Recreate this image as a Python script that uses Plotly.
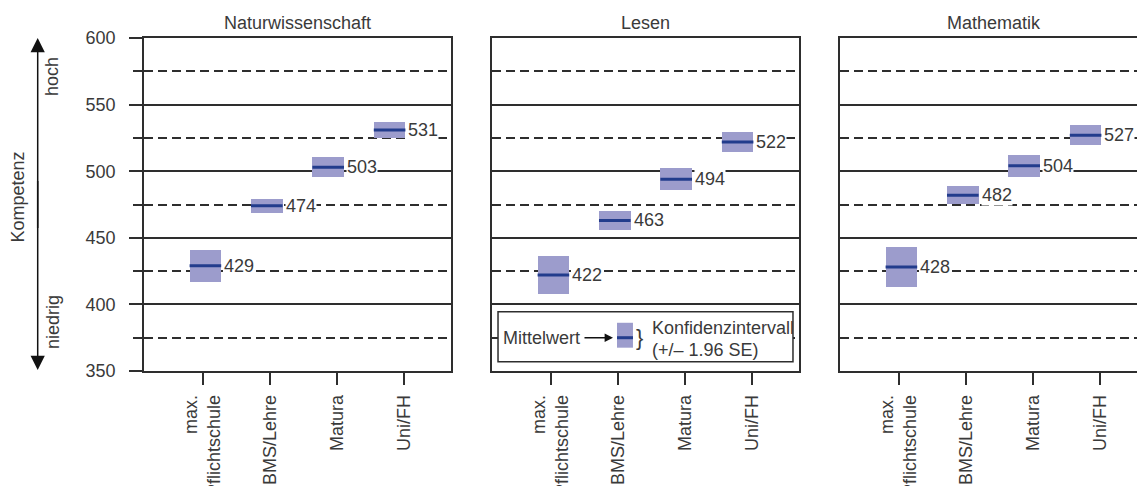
import plotly.graph_objects as go

# ---- data -------------------------------------------------------------
subjects = ["Naturwissenschaft", "Lesen", "Mathematik"]
groups = ["max.<br>Pflichtschule", "BMS/Lehre", "Matura", "Uni/FH"]

mean_nw = [429, 474, 503, 531]
mean_le = [422, 463, 494, 522]
mean_ma = [428, 482, 504, 527]

se_nw = [6.1, 2.8, 3.9, 3.1]
se_le = [7.4, 3.8, 4.3, 3.7]
se_ma = [7.6, 3.5, 4.1, 3.8]

means = [mean_nw, mean_le, mean_ma]
ses = [se_nw, se_le, se_ma]

Z = 1.96  # confidence interval = mean +/- 1.96 SE

# ---- styling ----------------------------------------------------------
FONT = "Liberation Sans, Arial, sans-serif"
TXT = "#3a3a3a"
LINE = "#2e2e2e"
BOX_FILL = "#9c9ccc"
MEAN_COL = "#223c8c"
FS = 18

W, H = 1137, 486
TOP, BOTTOM = 38, 115
PANEL_PX = [(144, 451), (492, 799), (840, 1137)]
UNIT_PX = (451 - 144) / 5.0          # one category step in pixels
BOX_W = 0.515                        # box width in category units
TICK_POS = [-0.045, 1.05, 2.14, 3.23]

fig = go.Figure()

for p in range(3):
    xa = "x" if p == 0 else f"x{p + 1}"
    ya = "y" if p == 0 else f"y{p + 1}"
    xs = list(range(len(groups)))
    lo = [m - Z * s for m, s in zip(means[p], ses[p])]
    hi = [m + Z * s for m, s in zip(means[p], ses[p])]
    fig.add_trace(go.Bar(
        x=xs, base=lo, y=[h - l for h, l in zip(hi, lo)], width=BOX_W,
        marker=dict(color=BOX_FILL, line=dict(width=0)),
        xaxis=xa, yaxis=ya, showlegend=False, hoverinfo="skip"))
    # mean marker: the line-ew symbol is 1.4 x its size long
    fig.add_trace(go.Scatter(
        x=xs, y=means[p], mode="markers",
        marker=dict(symbol="line-ew", size=BOX_W * UNIT_PX / 1.4,
                    line=dict(color=MEAN_COL, width=3)),
        xaxis=xa, yaxis=ya, showlegend=False, hoverinfo="skip"))
    for i, m in enumerate(means[p]):
        fig.add_annotation(
            x=i + BOX_W / 2, y=m, xref=xa, yref=ya, text=str(m),
            xanchor="left", yanchor="middle", xshift=2, showarrow=False,
            bgcolor="white", borderpad=0,
            font=dict(family=FONT, size=FS, color=TXT))
    # panel title
    fig.add_annotation(
        x=1.5, y=1, xref=xa, yref="paper", text=subjects[p],
        xanchor="center", yanchor="middle", yshift=15, showarrow=False,
        font=dict(family=FONT, size=FS, color=TXT))

# ---- axes -------------------------------------------------------------
for p, (x0, x1) in enumerate(PANEL_PX):
    key = "" if p == 0 else str(p + 1)
    rmax = -1 + (x1 - x0) / UNIT_PX
    fig.update_layout(**{
        f"xaxis{key}": dict(
            domain=[x0 / W, x1 / W], range=[-1, rmax], anchor=f"y{key}",
            showgrid=False, zeroline=False,
            showline=True, linecolor=LINE, linewidth=1.5, mirror=True,
            ticks="outside", ticklen=12, tickwidth=1.5, tickcolor=LINE,
            tickvals=TICK_POS, ticktext=groups, tickangle=-90,
            ticklabelstandoff=3,
            tickfont=dict(family=FONT, size=FS, color=TXT),
            fixedrange=True),
        f"yaxis{key}": dict(
            domain=[0, 1], range=[350, 600], anchor=f"x{key}",
            tick0=350, dtick=50,
            showgrid=True, gridcolor=LINE, gridwidth=1.5, zeroline=False,
            showline=True, linecolor=LINE, linewidth=1.5,
            mirror=(p < 2),
            ticks="outside" if p == 0 else "", ticklen=13, tickwidth=1.5,
            tickcolor=LINE, showticklabels=(p == 0), ticklabelstandoff=10,
            tickfont=dict(family=FONT, size=FS, color=TXT),
            minor=dict(tick0=350, dtick=25, showgrid=True, gridcolor=LINE,
                       gridwidth=1.5, griddash="9px,5px",
                       ticks="outside" if p == 0 else "", ticklen=9,
                       tickwidth=1.5, tickcolor=LINE),
            fixedrange=True),
    })

# ---- y-axis title with direction arrow ---------------------------------
def px_x(px):
    return px / W


def px_y(py):
    return (H - BOTTOM - py) / (H - BOTTOM - TOP)


for label, cx, cy in [("Kompetenz", 17.5, 197), ("hoch", 52, 77),
                      ("niedrig", 53, 322)]:
    fig.add_annotation(x=px_x(cx), y=px_y(cy), xref="paper", yref="paper",
                       text=label, textangle=-90, showarrow=False,
                       xanchor="center", yanchor="middle",
                       font=dict(family=FONT, size=FS, color=TXT))

# two arrows from the middle outwards; tails overlap so the shaft is unbroken
mid = (TOP + H - BOTTOM) / 2
for tip, sign in ((TOP, 1), (H - BOTTOM - 1, -1)):
    fig.add_annotation(x=px_x(37.7), y=px_y(tip), xref="paper", yref="paper",
                       text="", showarrow=True, arrowhead=2, arrowsize=1.9,
                       arrowwidth=1.5, arrowcolor="#111111",
                       ax=0, ay=mid - tip + sign * 25, standoff=0,
                       font=dict(size=1))

# ---- key inside the reading panel --------------------------------------
fig.add_shape(type="rect", xref="x2", yref="y2", x0=-0.902, x1=3.902,
              y0=357, y1=394.5, fillcolor="white",
              line=dict(color=LINE, width=1.5), layer="above")
fig.add_shape(type="rect", xref="x2", yref="y2", x0=1.036, x1=1.296,
              y0=367.5, y1=386.2, fillcolor=BOX_FILL, line=dict(width=0),
              layer="above")
fig.add_shape(type="line", xref="x2", yref="y2", x0=1.036, x1=1.296,
              y0=375, y1=375, line=dict(color=MEAN_COL, width=3),
              layer="above")
fig.add_annotation(x=0.466, y=375, xref="x2", yref="y2", text="Mittelwert",
                   xanchor="right", yanchor="middle", showarrow=False,
                   font=dict(family=FONT, size=FS, color=TXT))
fig.add_annotation(x=0.971, y=375, xref="x2", yref="y2", text="",
                   showarrow=True, arrowhead=2, arrowsize=1.2, arrowwidth=1.4,
                   arrowcolor="#111111", axref="x2", ayref="y2",
                   ax=0.482, ay=375, standoff=0, font=dict(size=1))
fig.add_annotation(x=1.41, y=375.5, xref="x2", yref="y2", text="}",
                   xanchor="center", yanchor="middle", showarrow=False,
                   font=dict(family=FONT, size=22, color=TXT))
fig.add_annotation(x=1.573, y=382.5, xref="x2", yref="y2",
                   text="Konfidenzintervall", xanchor="left",
                   yanchor="middle", showarrow=False,
                   font=dict(family=FONT, size=FS, color=TXT))
fig.add_annotation(x=1.573, y=366, xref="x2", yref="y2",
                   text="(+/\u2013 1.96 SE)", xanchor="left",
                   yanchor="middle", showarrow=False,
                   font=dict(family=FONT, size=FS, color=TXT))

fig.update_layout(
    width=W, height=H,
    margin=dict(l=0, r=0, t=TOP, b=BOTTOM, autoexpand=False),
    paper_bgcolor="white", plot_bgcolor="white",
    showlegend=False, barmode="overlay", bargap=0,
    font=dict(family=FONT, size=FS, color=TXT),
)

fig.write_html("out.html")
